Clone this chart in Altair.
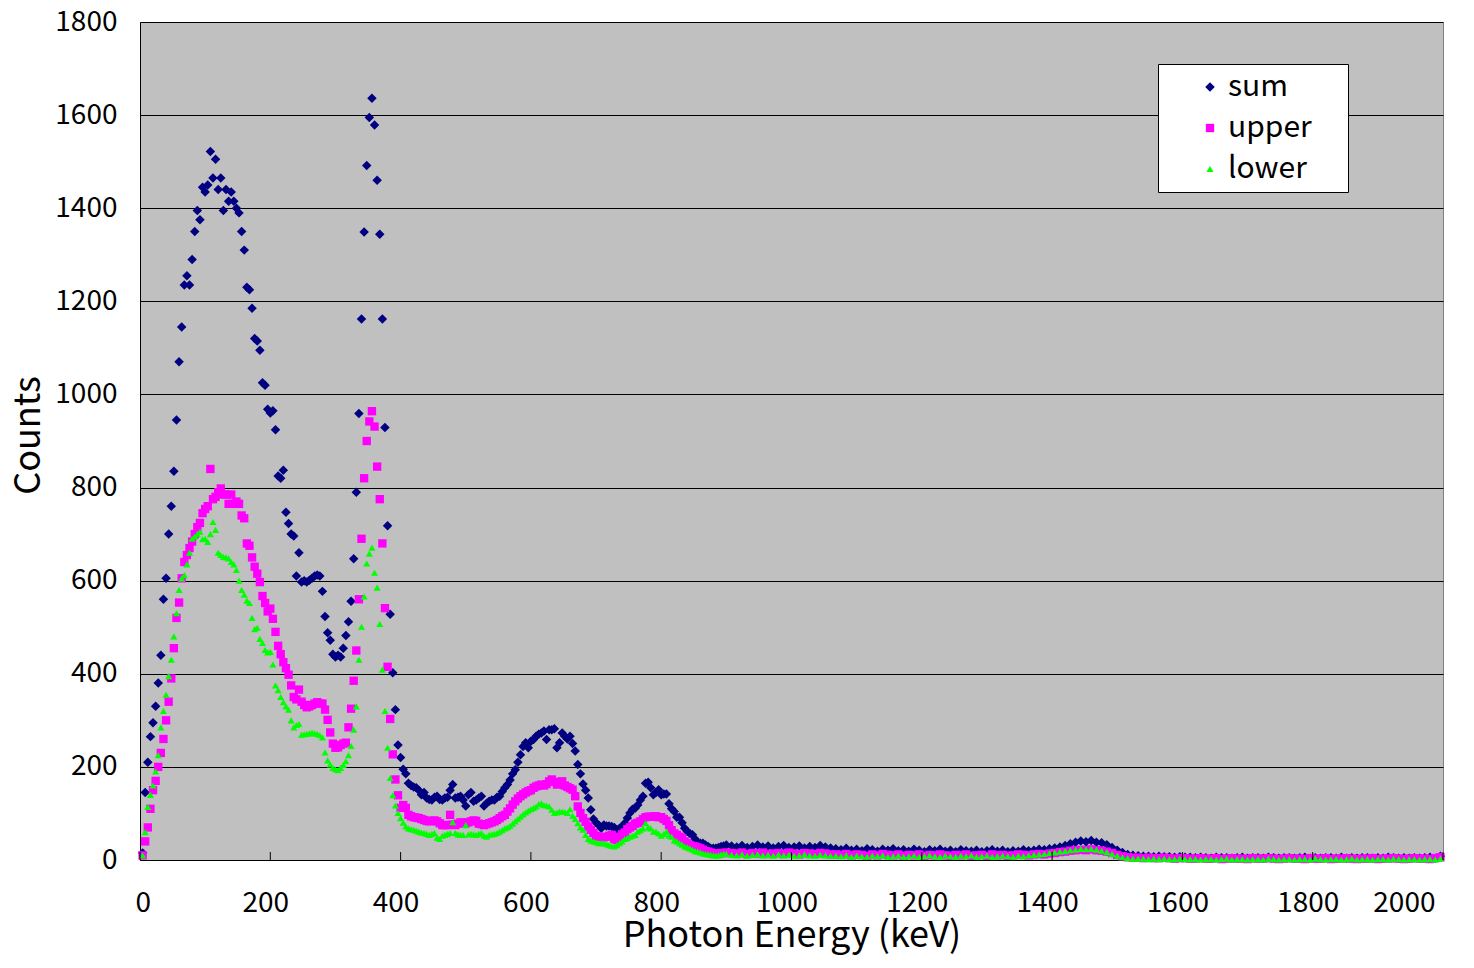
import altair as alt
import pandas as pd

series_names = ["sum", "upper", "lower"]
series_colors = ["#000080", "#FF00FF", "#00FF00"]
series_shapes = ["diamond", "square", "triangle-up"]
series_sizes = [90, 50, 170]

x_ticks = [0, 200, 400, 600, 800, 1000, 1200, 1400, 1600, 1800, 2000]
y_ticks = [0, 200, 400, 600, 800, 1000, 1200, 1400, 1600, 1800]

# 4 keV channels, 4..400 keV
sum_low = [15,145,210,265,295,330,380,440,560,605,
           700,760,835,945,1070,1145,1235,1255,1235,1290,
           1350,1395,1375,1445,1435,1450,1522,1465,1505,1440,
           1465,1395,1440,1415,1435,1415,1400,1390,1350,1310,
           1230,1225,1185,1120,1115,1095,1025,1020,968,960,
           965,924,825,820,837,747,723,700,696,610,
           660,597,600,597,601,605,610,612,610,577,
           523,488,472,442,436,440,436,455,482,512,
           556,647,790,959,1162,1349,1492,1595,1636,1579,
           1460,1344,1162,929,718,528,402,323,247,220]
upper_low = [10,40,70,110,150,170,200,230,260,300,
             340,390,455,520,553,605,640,655,670,684,
             700,715,724,745,754,760,840,775,780,790,
             798,785,785,765,785,765,770,765,740,734,
             680,675,650,630,615,597,567,552,534,540,
             518,490,460,442,425,412,398,375,350,345,
             366,340,333,328,330,333,336,339,336,336,
             323,301,274,250,241,242,247,250,252,285,
             325,385,450,560,690,820,900,942,964,931,
             845,775,680,541,415,303,227,173,139,112]
lower_low = [10,60,114,140,160,190,225,285,320,355,
             395,430,480,530,580,605,612,635,660,690,
             695,700,705,689,690,683,700,726,709,660,
             655,651,650,648,640,635,623,600,580,570,
             557,552,520,496,499,475,466,451,446,447,
             420,375,365,350,339,330,323,300,285,290,
             292,269,270,271,272,274,272,271,268,263,
             231,214,205,198,195,193,198,204,212,225,
             245,280,330,430,501,566,637,658,671,617,
             585,507,409,320,241,176,139,117,101,90]

# 4 keV channels, 404..900 keV
sum_mid = [195,185,165,160,157,155,150,140,145,133,
           130,129,135,137,130,129,133,135,150,162,
           133,135,137,129,116,140,145,126,129,133,
           137,116,122,126,129,129,135,137,147,155,
           162,172,185,194,210,226,244,252,241,255,
           259,266,270,273,277,259,280,280,282,241,
           252,273,266,260,266,250,234,205,185,163,
           150,133,108,88,80,75,68,75,73,73,
           72,70,65,68,72,79,90,101,109,111,
           118,129,137,165,167,155,140,145,151,140,
           142,142,121,110,104,92,92,80,68,61,
           57,54,45,36,36,36,32,29,25,25,
           25,27,29,30,32]
upper_mid = [118,112,97,94,92,91,90,88,86,84,
             83,84,85,83,79,75,75,75,97,76,
             75,78,81,80,79,81,83,85,84,78,
             77,75,77,79,81,83,86,90,94,97,
             104,111,119,126,132,137,141,145,148,150,
             155,158,160,162,160,163,169,173,168,162,
             166,169,160,157,154,151,137,115,101,90,
             82,72,65,58,52,50,49,49,50,52,
             54,45,43,50,55,59,66,70,73,78,
             80,83,88,92,93,93,93,94,92,92,
             88,84,75,64,57,54,50,47,40,36,
             32,30,29,27,25,22,19,18,16,14,
             14,14,15,15,16]
lower_mid = [80,72,68,66,65,63,61,59,58,56,
             54,56,58,48,45,52,54,56,58,81,
             58,55,54,54,75,55,56,55,54,56,
             58,52,50,54,55,56,58,61,64,68,
             70,73,78,83,88,93,98,102,106,109,
             112,115,120,122,118,117,115,108,101,102,
             104,104,103,101,109,95,88,79,70,65,
             54,45,42,40,38,36,36,36,34,32,
             30,29,32,36,40,45,47,50,52,54,
             61,64,68,79,70,68,61,61,57,52,
             56,61,52,50,42,40,36,33,29,27,
             25,22,19,18,16,14,13,12,11,10,
             9,10,12,13,13]

# 8 keV steps, 908..1996 keV
sum_tail = [30,28,31,27,29,32,28,30,26,29,31,27,28,30,26,29,27,31,28,26,
            24,22,25,21,23,20,24,22,19,23,21,24,20,22,19,23,21,18,22,20,
            23,19,21,18,22,20,19,21,18,20,22,19,21,18,20,19,22,20,21,23,22,24,
            26,28,31,
            35,38,41,39,42,38,37,33,
            27,21,16,12,10,
            9,8,8,7,8,7,7,6,7,6,6,
            5,6,5,4,6,5,5,4,5,6,4,5,5,4,6,5,4,5,5,4,5,6,4,5,4,5,5,4,6,4,
            5,4,5,5,4,5,4,6,5,4,5,4,5,4,5,6,4,8]
upper_tail = [15,14,16,13,15,14,16,13,14,15,13,16,14,12,15,14,13,15,14,12,
              12,11,13,10,12,11,9,12,10,13,11,10,12,9,11,10,12,9,11,10,
              12,10,9,11,10,12,9,10,11,9,12,10,11,9,10,12,11,10,12,13,12,14,
              15,17,18,
              20,21,22,21,23,21,20,18,
              15,11,8,6,5,
              5,4,5,4,4,5,4,3,4,4,3,
              3,4,3,3,4,2,3,4,3,3,2,4,3,3,4,3,2,3,4,3,3,2,4,3,3,4,2,3,3,4,
              3,2,3,3,4,2,3,3,4,3,2,3,4,3,3,2,4,6]
lower_tail = [11,10,12,9,11,12,10,11,9,12,10,11,9,10,12,10,9,11,10,9,
              9,8,10,7,9,8,7,9,8,10,7,8,9,7,8,9,7,8,10,8,
              7,9,8,7,9,8,10,7,8,9,7,8,9,8,7,9,8,10,11,12,13,15,
              16,18,19,
              21,22,24,23,24,22,20,17,
              13,9,6,4,3,
              3,3,2,3,2,3,2,2,3,2,2,
              2,1,2,2,1,2,3,1,2,2,1,2,2,1,3,2,1,2,2,1,2,2,1,3,2,1,2,2,1,2,
              3,1,2,2,1,2,2,1,3,2,1,2,2,1,2,2,1,3]


def build(name, low, mid, tail):
    head = low + mid
    e = [4 * (i + 1) for i in range(len(head))] + [908 + 8 * i for i in range(len(tail))]
    return pd.DataFrame({"energy": e, "counts": head + tail, "series": name})


df = pd.concat([
    build("sum", sum_low, sum_mid, sum_tail),
    build("upper", upper_low, upper_mid, upper_tail),
    build("lower", lower_low, lower_mid, lower_tail),
], ignore_index=True)
df["idx"] = range(len(df))

FONT = "Noto Sans CJK JP"

legend = alt.Legend(
    title=None, orient="none", legendX=1018, legendY=42,
    fillColor="white", strokeColor="black", padding=8,
    rowPadding=11, symbolOffset=29, labelOffset=3,
    labelFontSize=30, labelFont=FONT, labelColor="black",
    symbolSize=55, symbolStrokeWidth=0,
    labelExpr="datum.label + '\u2009\u2800'",
)

xscale = alt.Scale(domain=[0, 2000], nice=False, zero=False)
yscale = alt.Scale(domain=[0, 1800], nice=False)

points = alt.Chart(df).mark_point(filled=True, opacity=1, strokeWidth=0).encode(
    x=alt.X("energy:Q", scale=xscale, axis=alt.Axis(
        values=x_ticks, format="d", title="Photon Energy (keV)", grid=False, ticks=False, tickSize=0,
        labelFontSize=28, labelPadding=29, labelColor="black", labelFont=FONT,
        labelOffset=alt.condition("datum.value == 2000", alt.value(-8), alt.value(-5)),
        domainColor="black", domainWidth=1,
        titleFontSize=36, titleFont=FONT, titleFontWeight="normal", titleColor="black",
        titleY=75, titleBaseline="middle")),
    y=alt.Y("counts:Q", scale=yscale, axis=alt.Axis(
        values=y_ticks, format="d", title="Counts", grid=True, gridColor="black", gridWidth=1,
        ticks=False, tickSize=0, labelFontSize=28, labelPadding=23, labelColor="black",
        labelFont=FONT, domainColor="black", domainWidth=1,
        titleFontSize=36, titleFont=FONT, titleFontWeight="normal", titleColor="black",
        titleX=-112, titleY=413, titleBaseline="middle")),
    color=alt.Color("series:N", scale=alt.Scale(domain=series_names, range=series_colors), legend=legend),
    shape=alt.Shape("series:N", scale=alt.Scale(domain=series_names, range=series_shapes), legend=legend),
    size=alt.Size("series:N", scale=alt.Scale(domain=series_names, range=series_sizes), legend=None),
    order=alt.Order("idx:Q"),
)

tick_df = pd.DataFrame({"t": x_ticks})
ticks = alt.Chart(tick_df).mark_rule(color="black", strokeWidth=1).encode(
    x=alt.X("t:Q", scale=xscale),
    y=alt.datum(0, scale=yscale),
    y2=alt.datum(17),
)

chart = alt.layer(points, ticks).properties(
    width=1303, height=838,
    autosize=alt.AutoSizeParams(type="none"),
    padding={"left": 132, "top": 14, "right": 23, "bottom": 96},
).configure(font=FONT).configure_view(
    fill="#C0C0C0", stroke="#808080", strokeWidth=1,
)

chart.save("out.html", embed_options={"renderer": "svg", "actions": False})
